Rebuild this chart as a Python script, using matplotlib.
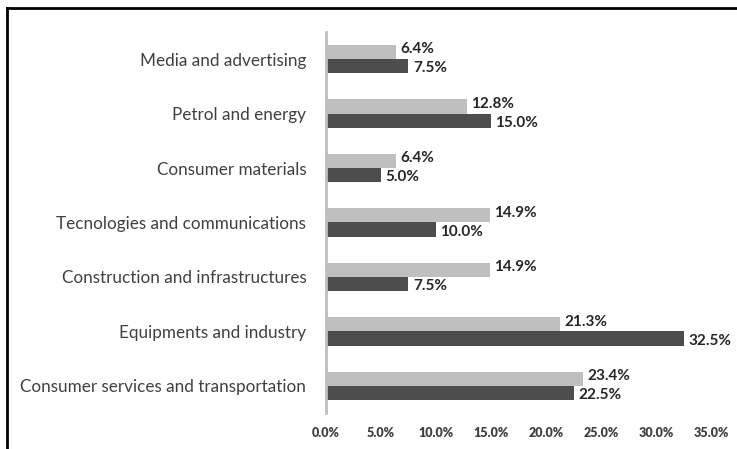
import numpy as np
import matplotlib
matplotlib.use("Agg")
import matplotlib.pyplot as plt
from matplotlib.lines import Line2D

categories = ["Media and advertising", "Petrol and energy", "Consumer materials",
              "Tecnologies and communications", "Construction and infrastructures",
              "Equipments and industry", "Consumer services and transportation"]
light_vals = [6.4, 12.8, 6.4, 14.9, 14.9, 21.3, 23.4]
dark_vals = [7.5, 15.0, 5.0, 10.0, 7.5, 32.5, 22.5]
xticks = [0, 5, 10, 15, 20, 25, 30, 35]

plt.rcParams['font.family'] = ['Lato', 'DejaVu Sans']

fig = plt.figure(figsize=(7.37, 4.49), dpi=100)
ax = fig.add_axes([0.442, 0.080, 0.523, 0.849])

y = np.arange(len(categories))
h = 0.26
ax.barh(y - h / 2, light_vals, height=h, color="#bfbfbf")
ax.barh(y + h / 2, dark_vals, height=h, color="#4d4d4d")

for i in range(len(categories)):
    ax.text(light_vals[i] + 0.4, y[i] - h / 2 - 0.05, f"{light_vals[i]:.1f}%", va="center", ha="left",
            fontsize=11, fontweight="bold", color="#262626")
    ax.text(dark_vals[i] + 0.4, y[i] + h / 2 + 0.04, f"{dark_vals[i]:.1f}%", va="center", ha="left",
            fontsize=11, fontweight="bold", color="#262626")

ax.set_ylim(len(categories) - 0.5, -0.5)
ax.set_xlim(0, 35)
ax.set_yticks(y)
ax.set_yticklabels(categories, fontsize=12.3, color="#404040")
ax.set_xticks(xticks)
ax.set_xticklabels([f"{t:.1f}%" for t in xticks], fontsize=9, fontweight="heavy", color="#404040")
ax.tick_params(axis="both", length=0)
ax.tick_params(axis="y", pad=14)
ax.tick_params(axis="x", pad=10)
for s in ["top", "right", "bottom"]:
    ax.spines[s].set_visible(False)
ax.spines["left"].set_color("#bfbfbf")
ax.spines["left"].set_linewidth(2)

# outer frame (only left and top edges visible in the crop)
fig.add_artist(Line2D([6.5 / 737, 6.5 / 737], [0, 1 - 8 / 449], transform=fig.transFigure, color="black", lw=2))
fig.add_artist(Line2D([6.5 / 737, 1], [1 - 8 / 449, 1 - 8 / 449], transform=fig.transFigure, color="black", lw=2))

fig.savefig("out.png", dpi=100)
